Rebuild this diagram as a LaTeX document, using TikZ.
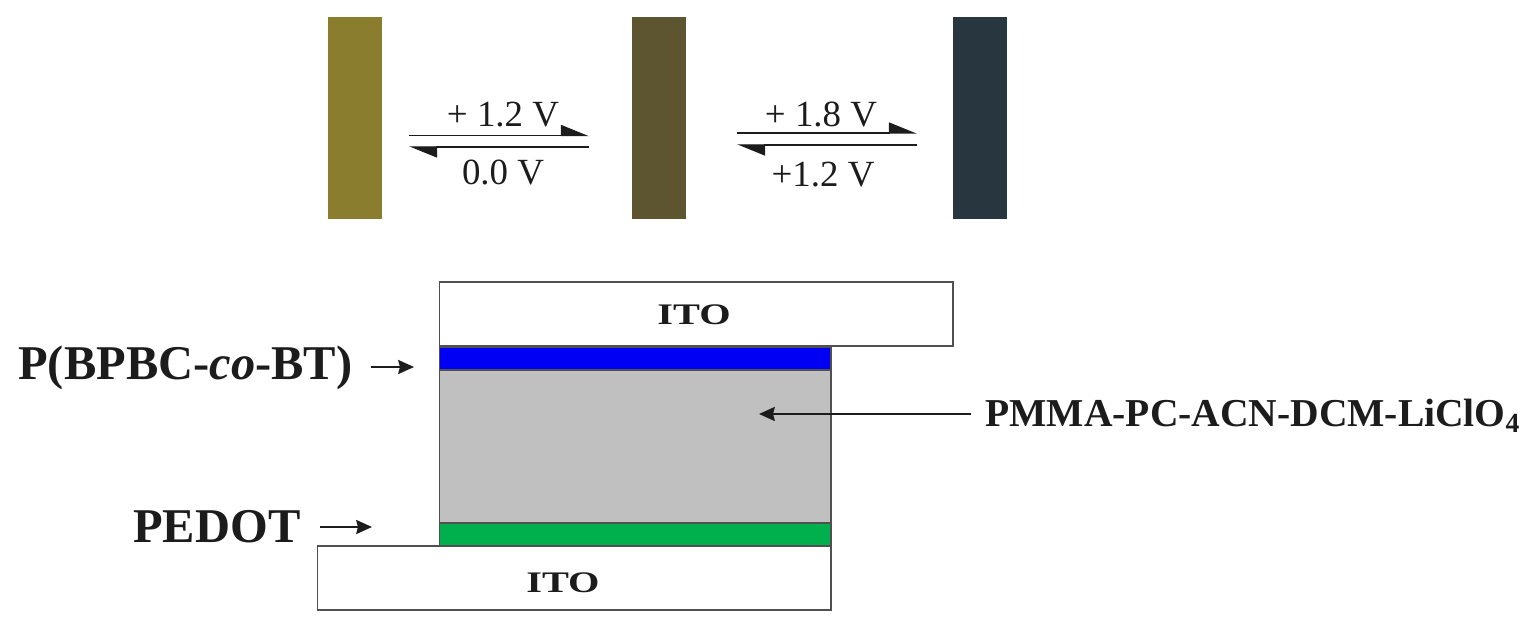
\documentclass[tikz,border=0pt]{standalone}
\usepackage{fontspec}
\setmainfont{Liberation Serif}
\usetikzlibrary{arrows.meta}
\definecolor{barolive}{HTML}{8A7D2E}
\definecolor{barbrown}{HTML}{5C5530}
\definecolor{barslate}{HTML}{27363F}
\definecolor{layerblue}{HTML}{0000F5}
\definecolor{layergray}{HTML}{C0C0C0}
\definecolor{layergreen}{HTML}{00B04C}
\definecolor{inktext}{HTML}{1C1C1C}
\definecolor{inkedge}{HTML}{505050}
\tikzset{
  film bar/.style={anchor=north west, inner sep=0pt, minimum width=1.08cm, minimum height=4.04cm},
  layer box/.style={draw=inkedge, line width=1pt, anchor=north west, inner sep=0pt},
  switch arrow/.style={line width=0.8pt, draw=inktext, -{Stealth[harpoon, length=15pt, width=12pt, inset=0pt]}},
  label arrow/.style={line width=1pt, draw=inktext, -{Stealth[length=9pt, width=8pt, inset=1pt]}},
  volt text/.style={anchor=base, inner sep=0pt, text=inktext, font=\fontsize{21}{24}\selectfont},
  bold text/.style={anchor=base west, inner sep=0pt, text=inktext, font=\bfseries\fontsize{27.6}{30}\selectfont},
  ito text/.style={anchor=base, inner sep=0pt, text=inktext, xscale=1.35, font=\bfseries\fontsize{17}{20}\selectfont},
}

\begin{document}
\begin{tikzpicture}[x=0.02cm, y=-0.02cm]
    \useasboundingbox (0,0) rectangle (1535,641);

    % The three colour states of the film
    \node[film bar, fill=barolive] (bar1) at (327.5,17) {};
    \node[film bar, fill=barbrown] (bar2) at (631.5,17) {};
    \node[film bar, fill=barslate] (bar3) at (953,17) {};

    % Switching arrows
    \coordinate (a1) at (409,135.5);
    \coordinate (a2) at (589,135.5);
    \coordinate (a3) at (589,147);
    \coordinate (a4) at (409,147);
    \coordinate (b1) at (737,133);
    \coordinate (b2) at (917,133);
    \coordinate (b3) at (917,145);
    \coordinate (b4) at (737,145);
    \draw[switch arrow] (a1) -- (a2);
    \draw[switch arrow] (a3) -- (a4);
    \draw[switch arrow] (b1) -- (b2);
    \draw[switch arrow] (b3) -- (b4);

    % Voltages
    \node[volt text] (v1) at (503,127) {+ 1.2 V};
    \node[volt text] (v2) at (503,185) {0.0 V};
    \node[volt text] (v3) at (821,127) {+ 1.8 V};
    \node[volt text] (v4) at (823,187) {+1.2 V};

    % Device stack
    \node[layer box, minimum width=10.28cm, minimum height=1.28cm] (itotop) at (438.5,281.5) {};
    \node[layer box, fill=layerblue, minimum width=7.84cm, minimum height=0.46cm] (polymer) at (438.5,346.5) {};
    \node[layer box, fill=layergray, minimum width=7.84cm, minimum height=3.06cm] (gel) at (438.5,369.5) {};
    \node[layer box, fill=layergreen, minimum width=7.84cm, minimum height=0.46cm] (pedot) at (438.5,522.5) {};
    \node[layer box, minimum width=10.28cm, minimum height=1.28cm] (itobot) at (316.5,545.5) {};
    \node[ito text] (itotoplabel) at (694,325) {ITO};
    \node[ito text] (itobotlabel) at (563,593) {ITO};

    % Labels and their arrows
    \node[bold text] (polymerlabel) at (18,380) {P(BPBC-\textit{co}-BT)};
    \node[bold text] (pedotlabel) at (133,542) {PEDOT};
    \node[bold text, font=\bfseries\fontsize{22.5}{26}\selectfont] (gellabel) at (985,427) {PMMA-PC-ACN-DCM-LiClO\textsubscript{4}};
    \coordinate (polymerfrom) at (371,367);
    \coordinate (polymerto) at (414,367);
    \coordinate (pedotfrom) at (320,527);
    \coordinate (pedotto) at (372,527);
    \coordinate (gelfrom) at (971,414);
    \coordinate (gelto) at (759,414);
    \draw[label arrow] (polymerfrom) -- (polymerto);
    \draw[label arrow] (pedotfrom) -- (pedotto);
    \draw[label arrow] (gelfrom) -- (gelto);
\end{tikzpicture}
\end{document}
